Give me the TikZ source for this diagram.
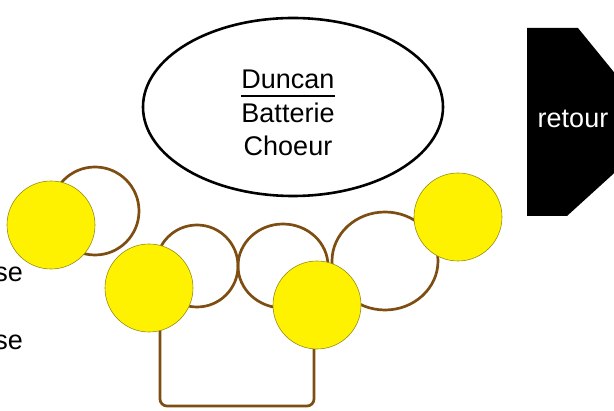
\documentclass[tikz,border=0pt]{standalone}
\usepackage{fontspec}
\setmainfont{Liberation Sans}
\definecolor{ringbrown}{RGB}{125,77,18}
\definecolor{sunyellow}{RGB}{255,242,0}
\definecolor{olive}{RGB}{150,140,20}
\begin{document}
\begin{tikzpicture}[x=1pt,y=-1pt,
  ring/.style={draw=ringbrown,line width=2.7pt},
  dot/.style={circle,fill=sunyellow,draw=olive,line width=0.6pt,minimum size=88pt,inner sep=0pt},
  lbl/.style={font=\fontsize{27}{29}\selectfont,inner sep=0pt}]
\useasboundingbox (0,0) rectangle (614,411);
\clip (0,0) rectangle (614,411);
% big ellipse
\draw[line width=2.6pt] (293,107) ellipse [x radius=150, y radius=89];
\node[lbl,anchor=base] (t1) at (288,89) {Duncan};
\draw[line width=1.8pt] (t1.base west) ++(0,7) coordinate (u1) -- (t1.base east |- u1);
\node[lbl,anchor=base] (t2) at (288,123) {Batterie};
\node[lbl,anchor=base] (t3) at (288,156) {Choeur};
% retour box
\fill (527,28) -- (578,28) -- (622,82) -- (622,166) -- (567,216) -- (527,216) -- cycle;
\node[lbl,text=white,anchor=base] (rt) at (573,128) {retour};
% left texts
\node[lbl,anchor=base east] (s1) at (23,282) {se};
\node[lbl,anchor=base east] (s2) at (23,350) {se};
% rings
\draw[ring] (95,211) circle [radius=44];
\draw[ring] (197,266) circle [radius=41];
\draw[ring] (283,266) ellipse [x radius=45, y radius=42];
\draw[ring] (385,261) ellipse [x radius=53, y radius=49];
% bracket (ends hidden under the discs)
\coordinate (bl) at (160,320);
\coordinate (br) at (314,330);
\draw[ring,rounded corners=7pt] (bl) -- (160,406) -- (314,406) -- (br);
% yellow discs
\node[dot] (a) at (51,225) {};
\node[dot] (b) at (149,288) {};
\node[dot] (c) at (317,305) {};
\node[dot] (d) at (458,217) {};
\end{tikzpicture}
\end{document}
